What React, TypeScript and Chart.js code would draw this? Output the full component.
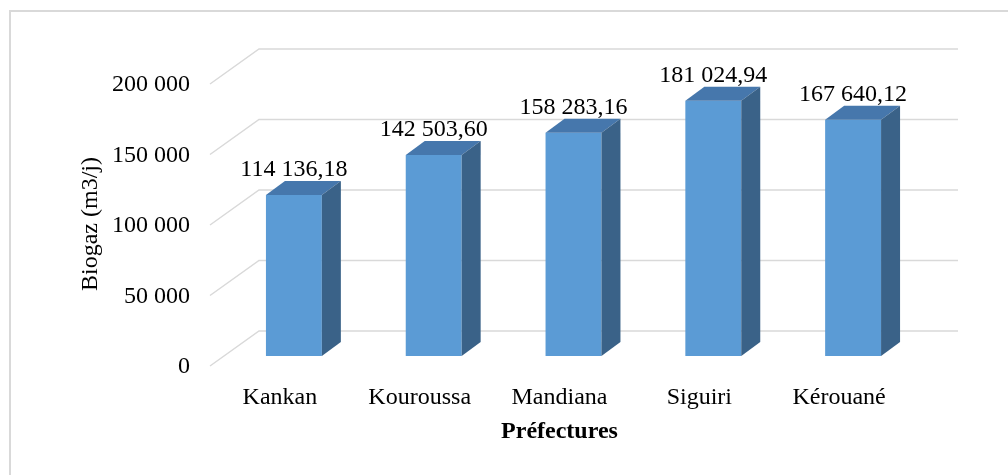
import React, { useEffect, useRef } from "react";
import { Chart, registerables } from "chart.js";

Chart.register(...registerables);

const categories: string[] = ["Kankan", "Kouroussa", "Mandiana", "Siguiri", "Kérouané"];
const biogasValues: number[] = [114136.18, 142503.6, 158283.16, 181024.94, 167640.12];
const yTickMin = 0;
const yTickMax = 200000;
const yTickStep = 50000;
const yAxisTitle = "Biogaz (m3/j)";
const xAxisTitle = "Préfectures";

const FONT = "'Liberation Serif', 'Times New Roman', serif";

const groupThousands = (s: string) => s.replace(/\B(?=(\d{3})+(?!\d))/g, " ");
const fmtTick = (v: number) => groupThousands(Math.round(v).toString());
const fmtValue = (v: number) => {
  const [i, d] = v.toFixed(2).split(".");
  return groupThousands(i) + "," + d;
};

// 3D geometry (pixel offsets)
const BACK_DX = 35;
const BACK_DY = -25;
const FRONT_DX = -14;
const FRONT_DY = 10;
const DEPTH_DX = 19;
const DEPTH_DY = -14;

const threeDPlugin = {
  id: "threeD",
  beforeDraw(chart: any) {
    const { ctx } = chart;
    ctx.save();
    ctx.strokeStyle = "#D9D9D9";
    ctx.lineWidth = 2;
    ctx.beginPath();
    ctx.moveTo(10, 476);
    ctx.lineTo(10, 11);
    ctx.lineTo(1008, 11);
    ctx.stroke();
    ctx.restore();
  },
  beforeDatasetsDraw(chart: any) {
    const { ctx, chartArea, scales } = chart;
    const y = scales.y;
    ctx.save();
    ctx.strokeStyle = "#D9D9D9";
    ctx.lineWidth = 1.5;
    for (const t of y.ticks) {
      const py = y.getPixelForValue(t.value);
      ctx.beginPath();
      ctx.moveTo(chartArea.left + FRONT_DX, py + FRONT_DY);
      ctx.lineTo(chartArea.left + BACK_DX, py + BACK_DY);
      ctx.lineTo(chartArea.right + BACK_DX, py + BACK_DY);
      ctx.stroke();
    }
    ctx.restore();
  },
  afterDatasetsDraw(chart: any) {
    const { ctx, chartArea } = chart;
    const meta = chart.getDatasetMeta(0);
    ctx.save();
    meta.data.forEach((bar: any, i: number) => {
      const { x, y, base, width } = bar.getProps(["x", "y", "base", "width"], true);
      const l = x - width / 2;
      const r = x + width / 2;
      // top face
      ctx.fillStyle = "#4677AC";
      ctx.beginPath();
      ctx.moveTo(l, y);
      ctx.lineTo(l + DEPTH_DX, y + DEPTH_DY);
      ctx.lineTo(r + DEPTH_DX, y + DEPTH_DY);
      ctx.lineTo(r, y);
      ctx.closePath();
      ctx.fill();
      // side face
      ctx.fillStyle = "#3A6288";
      ctx.beginPath();
      ctx.moveTo(r, y);
      ctx.lineTo(r + DEPTH_DX, y + DEPTH_DY);
      ctx.lineTo(r + DEPTH_DX, base + DEPTH_DY);
      ctx.lineTo(r, base);
      ctx.closePath();
      ctx.fill();
      // value label
      ctx.fillStyle = "#000";
      ctx.font = `24px ${FONT}`;
      ctx.textAlign = "center";
      ctx.textBaseline = "middle";
      ctx.fillText(fmtValue(biogasValues[i]), x, y - 25);
    });
    // x axis title
    ctx.fillStyle = "#000";
    ctx.font = `bold 24px ${FONT}`;
    ctx.textAlign = "center";
    ctx.textBaseline = "middle";
    ctx.fillText(xAxisTitle, (chartArea.left + chartArea.right) / 2 + FRONT_DX, 432);
    // y axis title
    ctx.font = `24px ${FONT}`;
    ctx.translate(91, 224);
    ctx.rotate(-Math.PI / 2);
    ctx.fillText(yAxisTitle, 0, 0);
    ctx.restore();
  },
};

export default function App() {
  const canvasRef = useRef<HTMLCanvasElement | null>(null);

  useEffect(() => {
    if (!canvasRef.current) return;
    const chart = new Chart(canvasRef.current, {
      type: "bar",
      data: {
        labels: categories,
        datasets: [
          {
            label: yAxisTitle,
            data: biogasValues,
            backgroundColor: "#5B9BD5",
            borderWidth: 0,
            barPercentage: 0.4,
            categoryPercentage: 1,
          },
        ],
      },
      options: {
        animation: false,
        responsive: false,
        devicePixelRatio: 1,
        layout: { padding: { left: 0, right: 85, top: 74, bottom: 0 } },
        plugins: {
          legend: { display: false },
          tooltip: { enabled: false },
        },
        scales: {
          x: {
            grid: { display: false, drawTicks: false },
            border: { display: false },
            ticks: {
              color: "#000",
              font: { family: FONT, size: 24 },
              padding: 27,
              labelOffset: FRONT_DX,
              maxRotation: 0,
            },
            afterFit: (scale: any) => {
              scale.height = 119;
            },
          },
          y: {
            min: yTickMin,
            max: yTickMax,
            grid: { display: false, drawTicks: false },
            border: { display: false },
            ticks: {
              stepSize: yTickStep,
              color: "#000",
              font: { family: FONT, size: 24 },
              padding: 34,
              labelOffset: 11,
              callback: (v: any) => fmtTick(Number(v)),
            },
            afterFit: (scale: any) => {
              scale.width = 224;
            },
          },
        },
      },
      plugins: [threeDPlugin],
    });
    return () => chart.destroy();
  }, []);

  return (
    <div style={{ position: "fixed", left: 0, top: 0, width: 1008, height: 475, background: "#fff" }}>
      <canvas ref={canvasRef} width={1008} height={475} />
    </div>
  );
}
